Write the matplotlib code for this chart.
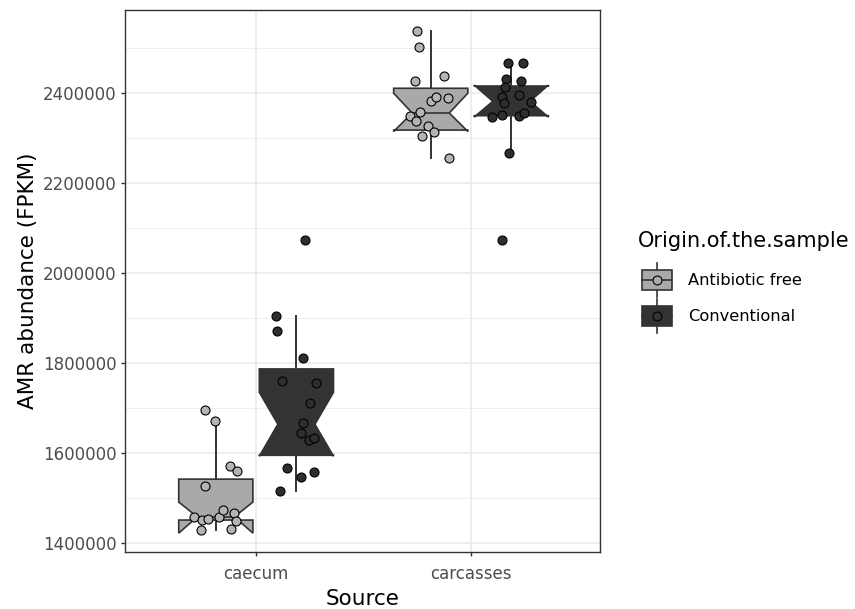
import matplotlib
matplotlib.use('Agg')
import matplotlib.pyplot as plt
from matplotlib.legend_handler import HandlerBase
from matplotlib.patches import Rectangle
from matplotlib.lines import Line2D
from matplotlib.ticker import MultipleLocator, StrMethodFormatter

sources = ['caecum', 'carcasses']
origins = ['Antibiotic free', 'Conventional']

# box stats per group: caecum AF, caecum CV, carcasses AF, carcasses CV
q1 = [1451000, 1595000, 2318000, 2350000]
med = [1458000, 1664000, 2356000, 2382000]
q3 = [1542000, 1787000, 2411000, 2416000]
notch_lo = [1422000, 1593000, 2315000, 2347000]
notch_hi = [1491000, 1735000, 2400000, 2418000]
whisk_lo = [1429000, 1516000, 2256000, 2267000]
whisk_hi = [1669000, 1904000, 2538000, 2467000]

# sample points (value, horizontal jitter in category units)
caecum_af = [1695000, 1671000, 1571000, 1560000, 1527000, 1458000, 1451000,
             1453000, 1458000, 1473000, 1467000, 1449000, 1429000, 1431000]
caecum_af_jit = [-0.05, -0.005, 0.065, 0.1, -0.05, -0.1, -0.065,
                 -0.035, 0.015, 0.035, 0.085, 0.095, -0.07, 0.07]

caecum_cv = [1904000, 1871000, 1811000, 1760000, 1756000, 1711000, 1667000, 1644000,
             1629000, 1633000, 1567000, 1558000, 1547000, 1516000, 2073000]
caecum_cv_jit = [-0.095, -0.09, 0.03, -0.065, 0.09, 0.065, 0.03, 0.02,
                 0.06, 0.08, -0.045, 0.08, 0.02, -0.075, 0.04]

carc_af = [2538000, 2502000, 2427000, 2438000, 2382000, 2391000, 2389000,
           2358000, 2349000, 2338000, 2327000, 2313000, 2304000, 2256000]
carc_af_jit = [-0.065, -0.055, -0.075, 0.06, 0.0, 0.025, 0.08,
               -0.05, -0.095, -0.07, -0.015, 0.015, -0.04, 0.085]

carc_cv = [2467000, 2467000, 2431000, 2427000, 2413000, 2391000, 2396000, 2378000,
           2380000, 2347000, 2351000, 2349000, 2356000, 2267000, 2073000]
carc_cv_jit = [-0.015, 0.055, -0.025, 0.045, -0.03, -0.045, 0.035, -0.035,
               0.09, -0.09, -0.045, 0.035, 0.06, -0.01, -0.045]

points = [(caecum_af, caecum_af_jit), (caecum_cv, caecum_cv_jit),
          (carc_af, carc_af_jit), (carc_cv, carc_cv_jit)]

fills = {'Antibiotic free': '#a9a9a9', 'Conventional': '#333333'}
dot_fills = {'Antibiotic free': '#b4b4b4', 'Conventional': '#2e2e2e'}
edge = '#333333'
dodge = {'Antibiotic free': -0.1875, 'Conventional': 0.1875}

fig = plt.figure(figsize=(8.55, 6.09), dpi=100)
ax = fig.add_axes([125 / 855, 57 / 609, 475 / 855, 542 / 609])

groups = [(s, o) for s in range(len(sources)) for o in origins]
pos = [s + 1 + dodge[o] for s, o in groups]

stats = []
for i in range(len(groups)):
    stats.append(dict(med=med[i], q1=q1[i], q3=q3[i], whislo=whisk_lo[i],
                      whishi=whisk_hi[i], cilo=notch_lo[i], cihi=notch_hi[i], fliers=[]))

bp = ax.bxp(stats, positions=pos, widths=0.345, shownotches=True, patch_artist=True,
            showfliers=False, showcaps=False, manage_ticks=False,
            boxprops=dict(edgecolor=edge, linewidth=1.2),
            whiskerprops=dict(color=edge, linewidth=1.4),
            medianprops=dict(color=edge, linewidth=1.2))
for box, (s, o) in zip(bp['boxes'], groups):
    box.set_facecolor(fills[o])
    box.set_zorder(2)

for (vals, jit), p, (s, o) in zip(points, pos, groups):
    ax.scatter([p + j for j in jit], vals, s=42, color=dot_fills[o],
               edgecolors='black', linewidths=0.8, zorder=3)

ax.set_xlim(0.39, 2.6)
ax.set_ylim(1380000, 2585000)
ax.set_xticks([1, 2])
ax.set_xticklabels(sources)
ax.yaxis.set_major_locator(MultipleLocator(200000))
ax.yaxis.set_minor_locator(MultipleLocator(100000))
ax.yaxis.set_major_formatter(StrMethodFormatter('{x:.0f}'))
ax.tick_params(which='major', length=3, width=1.0, color=edge, labelcolor='#4d4d4d',
               labelsize=12, pad=3)
ax.tick_params(axis='x', which='major', pad=6.5)
ax.tick_params(which='minor', length=0)
ax.grid(which='major', color='#ebebeb', linewidth=1.2, zorder=0)
ax.grid(which='minor', axis='y', color='#ebebeb', linewidth=0.6, zorder=0)
ax.set_axisbelow(True)
for sp in ax.spines.values():
    sp.set_color(edge)
    sp.set_linewidth(1.0)

ax.set_xlabel('Source', fontsize=15.5, labelpad=4)
ax.set_ylabel('AMR abundance (FPKM)', fontsize=15.5, labelpad=3.5)


class BoxKey(HandlerBase):
    def create_artists(self, legend, orig_handle, xdescent, ydescent, width, height,
                       fontsize, trans):
        fill = orig_handle.get_facecolor()
        x0, y0 = -xdescent, -ydescent
        cx, cy = x0 + width / 2, y0 + height / 2
        whisk = Line2D([cx, cx], [y0, y0 + height], color=edge, lw=1.2)
        rect = Rectangle((x0, y0 + height * 0.21), width, height * 0.58,
                         facecolor=fill, edgecolor=edge, lw=1.2)
        mid = Line2D([x0, x0 + width], [cy, cy], color=edge, lw=1.2)
        dot = Line2D([cx], [cy], marker='o', ms=6.4, mfc=fill, mec='black',
                     mew=0.8, ls='none')
        arts = [whisk, rect, mid, dot]
        for a in arts:
            a.set_transform(trans)
        return arts


fig.text(638 / 855, 1 - 247 / 609, 'Origin.of.the.sample', fontsize=15,
         ha='left', va='baseline')
handles = [Rectangle((0, 0), 1, 1, facecolor=fills[o]) for o in origins]
leg = fig.legend(handles, origins, loc='upper left',
                 bbox_to_anchor=(642 / 855, 1 - 263 / 609), frameon=False,
                 fontsize=11.7, handlelength=1.85, handleheight=2.85,
                 handletextpad=1.0, labelspacing=0.1, borderpad=0, borderaxespad=0,
                 handler_map={Rectangle: BoxKey()})

fig.savefig('out.png', dpi=100)
